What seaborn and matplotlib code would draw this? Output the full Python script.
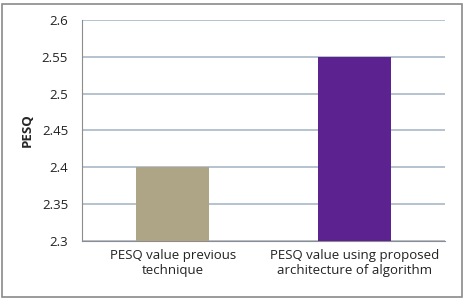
import matplotlib
matplotlib.use("Agg")
import matplotlib.pyplot as plt
import seaborn as sns
import pandas as pd
from matplotlib.patches import Rectangle

# data
categories = ["PESQ value previous\ntechnique", "PESQ value using proposed\narchitecture of algorithm"]
pesq_values = [2.4, 2.55]
bar_colors = ["#ADA586", "#5C2390"]
yticks = [2.3, 2.35, 2.4, 2.45, 2.5, 2.55, 2.6]
ytick_labels = ["2.3", "2.35", "2.4", "2.45", "2.5", "2.55", "2.6"]

sns.set_style("white")
plt.rcParams['font.family'] = ['Open Sans', 'DejaVu Sans']

df = pd.DataFrame({"cat": categories, "PESQ": pesq_values})

fig = plt.figure(figsize=(4.64, 2.99), dpi=100)
ax = fig.add_axes([82 / 464, 1 - 241 / 299, 363 / 464, 221 / 299])

sns.barplot(data=df, x="cat", y="PESQ", hue="cat", palette=bar_colors,
            width=0.4, legend=False, ax=ax, zorder=3, saturation=1, linewidth=0)

ax.set_ylim(2.3, 2.6)
ax.set_xlim(-0.5, 1.5)
ax.set_yticks(yticks)
ax.set_yticklabels(ytick_labels)
ax.yaxis.grid(True, color="#A9B8C6", linewidth=1.2, zorder=0)
ax.xaxis.grid(False)
ax.set_xlabel("")
ax.set_ylabel("PESQ", fontsize=9.5, fontweight="bold", labelpad=6)
ax.tick_params(axis="y", labelsize=9.5, length=0, pad=10)
ax.tick_params(axis="x", labelsize=9.5, length=0, pad=6)
for lbl in ax.get_xticklabels():
    lbl.set_color("#222222")
for lbl in ax.get_yticklabels():
    lbl.set_color("#222222")

for side in ["top", "right"]:
    ax.spines[side].set_visible(False)
ax.spines["left"].set_color("#8C8C8C")
ax.spines["bottom"].set_color("#8C8C8C")

# outer chart border
fig.patches.append(Rectangle((0.004, 0.008), 0.992, 0.978, transform=fig.transFigure,
                             fill=False, edgecolor="#8A8A8A", linewidth=1.2))

fig.savefig("out.png", dpi=100)
